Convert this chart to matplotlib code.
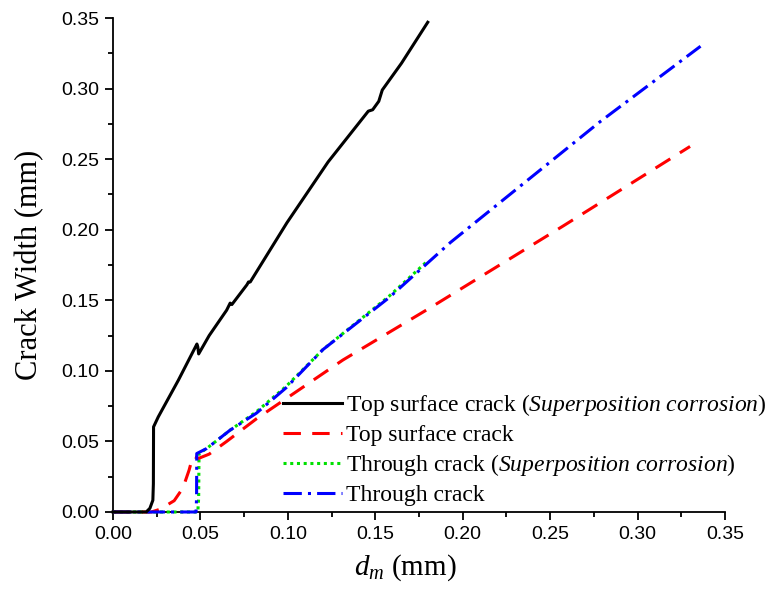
import matplotlib
matplotlib.use("Agg")
import matplotlib.pyplot as plt
from matplotlib.ticker import MultipleLocator

plt.rcParams['mathtext.fontset'] = 'custom'
plt.rcParams['mathtext.rm'] = 'Liberation Serif'
plt.rcParams['mathtext.it'] = 'Liberation Serif:italic'

# Top surface crack (superposition corrosion)
top_sup_x = [0, 0.019, 0.0211, 0.0228, 0.0231, 0.0232, 0.0259, 0.0374, 0.048, 0.0485, 0.049,
             0.055, 0.065, 0.067, 0.068, 0.0766, 0.0775, 0.0785, 0.0995, 0.123, 0.146,
             0.1485, 0.152, 0.154, 0.165, 0.180]
top_sup_y = [0, 0, 0.0026, 0.0083, 0.02, 0.0603, 0.0674, 0.0934, 0.119, 0.117, 0.112,
             0.125, 0.143, 0.148, 0.147, 0.161, 0.163, 0.163, 0.205, 0.248, 0.284,
             0.285, 0.291, 0.299, 0.318, 0.347]

# Top surface crack
top_x = [0, 0.022, 0.027, 0.035, 0.040, 0.0435, 0.0457, 0.049, 0.055, 0.065, 0.082,
         0.1315, 0.181, 0.2575, 0.330]
top_y = [0, 0, 0.002, 0.008, 0.017, 0.0296, 0.0395, 0.038, 0.041, 0.050, 0.066,
         0.1077, 0.1444, 0.2027, 0.259]

# Through crack (superposition corrosion)
thr_sup_x = [0, 0.0485, 0.049, 0.0492, 0.0536, 0.067, 0.082, 0.099, 0.120, 0.158, 0.180]
thr_sup_y = [0, 0, 0.01, 0.0414, 0.045, 0.058, 0.071, 0.089, 0.115, 0.153, 0.178]

# Through crack
thr_x = [0, 0.0475, 0.0478, 0.0479, 0.0536, 0.067, 0.082, 0.099, 0.120, 0.158, 0.193,
         0.2785, 0.336]
thr_y = [0, 0, 0.01, 0.0414, 0.045, 0.058, 0.070, 0.088, 0.115, 0.152, 0.191,
         0.2765, 0.330]

labels = [r'Top surface crack ($\mathit{Superposition\ corrosion}$)',
          'Top surface crack',
          r'Through crack ($\mathit{Superposition\ corrosion}$)',
          'Through crack']

fig = plt.figure(figsize=(7.66, 5.91), dpi=100)
ax = fig.add_axes([0.1475, 0.1337, 0.799, 0.8358])

lw = 2.2
ax.plot(top_sup_x, top_sup_y, color='black', lw=lw, label=labels[0], clip_on=False, zorder=5)
ax.plot(top_x, top_y, color='#ff0000', lw=lw, dashes=(5.7, 3.7), label=labels[1], clip_on=False, zorder=4)
ax.plot(thr_sup_x, thr_sup_y, color='#00e000', lw=lw, dashes=(1, 1.2), label=labels[2], clip_on=False, zorder=3)
ax.plot(thr_x, thr_y, color='#0000ff', lw=lw, dashes=(6, 2, 1, 2), label=labels[3], clip_on=False, zorder=4)

ax.set_xlim(0, 0.35)
ax.set_ylim(0, 0.35)
ax.xaxis.set_major_locator(MultipleLocator(0.05))
ax.xaxis.set_minor_locator(MultipleLocator(0.025))
ax.yaxis.set_major_locator(MultipleLocator(0.05))
ax.yaxis.set_minor_locator(MultipleLocator(0.025))
ax.xaxis.set_major_formatter(plt.FormatStrFormatter('%.2f'))
ax.yaxis.set_major_formatter(plt.FormatStrFormatter('%.2f'))

for s in ['top', 'right']:
    ax.spines[s].set_visible(False)
for s in ['left', 'bottom']:
    ax.spines[s].set_linewidth(1.3)

ax.tick_params(which='major', direction='out', length=6, width=1.3, labelsize=14, pad=4)
ax.tick_params(which='minor', direction='out', length=3.5, width=1.3)
for t in ax.get_xticklabels() + ax.get_yticklabels():
    t.set_fontfamily('Liberation Sans')

ax.set_xlabel(r'$d_m$ (mm)', fontsize=21, family='Liberation Serif')
ax.xaxis.set_label_coords(0.478, -0.082)
ax.set_ylabel('Crack Width (mm)', fontsize=22, family='Liberation Serif', labelpad=12)

leg = ax.legend(loc='upper left', bbox_to_anchor=(0.278, 0.242), frameon=False,
                prop={'family': 'Liberation Serif', 'size': 17},
                handlelength=2.5, handletextpad=0.15, labelspacing=0.26, borderpad=0,
                borderaxespad=0)

fig.savefig('out.png', dpi=100)
